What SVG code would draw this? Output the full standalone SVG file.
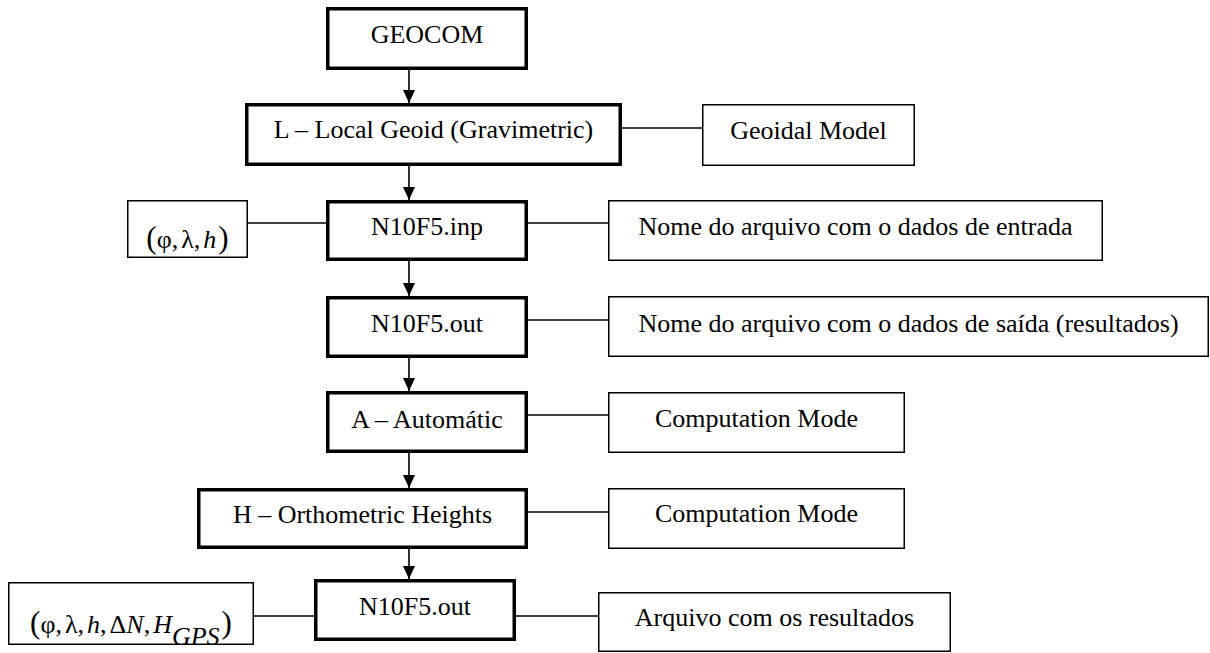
<svg xmlns="http://www.w3.org/2000/svg" width="1210" height="653" viewBox="0 0 1210 653">
<style>
  .thick { fill: #fff; stroke: #000; stroke-width: 3.5; }
  .thin { fill: #fff; stroke: #000; stroke-width: 1.5; }
  .conn { stroke: #000; stroke-width: 1.6; fill: none; }
  .arr { stroke: #000; stroke-width: 1.6; fill: none; marker-end: url(#ah); }
  text { font-family: "Liberation Serif", "DejaVu Serif", serif; font-size: 26px; fill: #000; text-anchor: middle; }
  .it { font-style: italic; }
  .par { font-size: 31px; }
</style>
<defs>
  <marker id="ah" markerUnits="userSpaceOnUse" markerWidth="12" markerHeight="14" refX="6" refY="13" orient="0" viewBox="0 0 12 14">
    <path d="M0,0 L12,0 L6,13 z" fill="#000"/>
  </marker>
</defs>
<rect width="1210" height="653" fill="#fff"/>
<g id="connectors">
  <line class="arr" x1="409" y1="70" x2="409" y2="103"/>
  <line class="arr" x1="409" y1="166" x2="409" y2="200"/>
  <line class="arr" x1="409" y1="261" x2="409" y2="296"/>
  <line class="arr" x1="409" y1="358" x2="409" y2="391"/>
  <line class="arr" x1="409" y1="453" x2="409" y2="488"/>
  <line class="arr" x1="409" y1="549" x2="409" y2="579"/>
  <line class="conn" x1="622" y1="128" x2="702" y2="128"/>
  <line class="conn" x1="248" y1="223" x2="326" y2="223"/>
  <line class="conn" x1="528" y1="223" x2="608" y2="223"/>
  <line class="conn" x1="528" y1="320" x2="608" y2="320"/>
  <line class="conn" x1="528" y1="415" x2="608" y2="415"/>
  <line class="conn" x1="528" y1="512" x2="608" y2="512"/>
  <line class="conn" x1="254" y1="616" x2="314" y2="616"/>
  <line class="conn" x1="516" y1="616" x2="598" y2="616"/>
</g>
<g id="geocom">
  <rect class="thick" x="327.75" y="8.75" width="198.5" height="59.5"/>
  <text x="427" y="43">GEOCOM</text>
</g>
<g id="local-geoid">
  <rect class="thick" x="246.75" y="104.75" width="373.5" height="59.5"/>
  <text x="433.5" y="138">L – Local Geoid (Gravimetric)</text>
</g>
<g id="geoidal-model">
  <rect class="thin" x="702.75" y="104.75" width="211.5" height="60.5"/>
  <text x="808.5" y="139">Geoidal Model</text>
</g>
<g id="input-coords">
  <rect class="thin" x="127.75" y="200.75" width="119.5" height="56.5"/>
  <text x="187.5" y="248"><tspan class="par">(</tspan>φ,<tspan dx="3">λ,</tspan><tspan class="it" dx="3">h</tspan><tspan class="par" dx="2">)</tspan></text>
</g>
<g id="n10f5-inp">
  <rect class="thick" x="327.75" y="201.75" width="198.5" height="57.5"/>
  <text x="427" y="235">N10F5.inp</text>
</g>
<g id="nome-entrada">
  <rect class="thin" x="608.75" y="200.75" width="493.5" height="59.5"/>
  <text x="855.5" y="235">Nome do arquivo com o dados de entrada</text>
</g>
<g id="n10f5-out">
  <rect class="thick" x="327.75" y="297.75" width="198.5" height="58.5"/>
  <text x="427" y="332">N10F5.out</text>
</g>
<g id="nome-saida">
  <rect class="thin" x="608.75" y="296.75" width="599.5" height="59.5"/>
  <text x="908.5" y="332">Nome do arquivo com o dados de saída (resultados)</text>
</g>
<g id="automatic">
  <rect class="thick" x="327.75" y="392.75" width="198.5" height="58.5"/>
  <text x="427" y="428">A – Automátic</text>
</g>
<g id="computation-mode-1">
  <rect class="thin" x="608.75" y="392.75" width="295.5" height="59.5"/>
  <text x="756.5" y="427">Computation Mode</text>
</g>
<g id="orthometric">
  <rect class="thick" x="198.75" y="489.75" width="327.5" height="57.5"/>
  <text x="362.5" y="523">H – Orthometric Heights</text>
</g>
<g id="computation-mode-2">
  <rect class="thin" x="608.75" y="488.75" width="295.5" height="59.5"/>
  <text x="756.5" y="522">Computation Mode</text>
</g>
<g id="output-coords">
  <rect class="thin" x="8.75" y="582.75" width="244.5" height="61.5"/>
  <text x="131" y="633"><tspan class="par">(</tspan>φ,<tspan dx="3">λ,</tspan><tspan class="it" dx="3">h</tspan>,<tspan dx="3">Δ</tspan><tspan class="it">N</tspan>,<tspan class="it" dx="3">H</tspan><tspan class="it" dy="12">GPS</tspan><tspan class="par" dy="-12" dx="2">)</tspan></text>
</g>
<g id="n10f5-out-2">
  <rect class="thick" x="315.75" y="580.75" width="198.5" height="58.5"/>
  <text x="415" y="615">N10F5.out</text>
</g>
<g id="arquivo">
  <rect class="thin" x="598.75" y="592.75" width="351.5" height="58.5"/>
  <text x="774.5" y="626">Arquivo com os resultados</text>
</g>
</svg>
